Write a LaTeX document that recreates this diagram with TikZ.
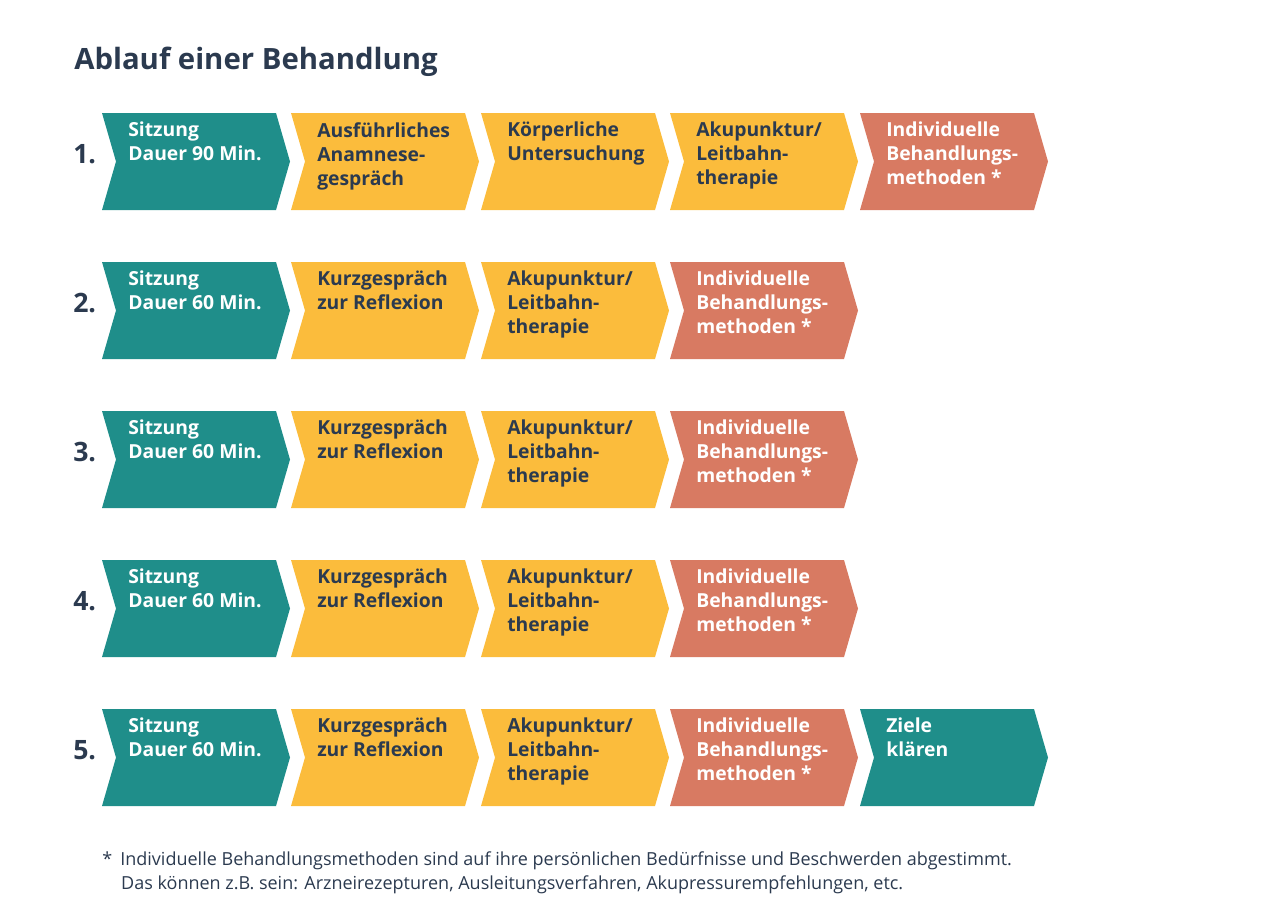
\documentclass[tikz,border=0pt]{standalone}
\usepackage{fontspec}
\setmainfont{Open Sans}
\definecolor{teal1}{HTML}{1F8E8A}
\definecolor{gelb}{HTML}{FBBC3C}
\definecolor{lachs}{HTML}{D87A62}
\definecolor{dunkel}{HTML}{2B3A4F}
\tikzset{
  pfeil/.style={inner sep=0pt},
  txt/.style={anchor=north west,align=left,inner sep=0pt,font=\bfseries\fontsize{14.5}{18}\selectfont},
  nr/.style={anchor=west,inner sep=0pt,text=dunkel,font=\bfseries\fontsize{20}{24}\selectfont}
}
% chevron: #1 = x, #2 = y (top), #3 = colour, #4 = name
\newcommand{\chev}[4]{%
  \fill[#3] (#1,#2) -- ++(174,0) -- ++(14,48.5) -- ++(-14,48.5) -- ++(-174,0) -- ++(14,-48.5) -- cycle;
  \coordinate (#4) at (#1+26,#2+9);}
\begin{document}
\begin{tikzpicture}[x=0.75pt,y=-0.75pt]
  \useasboundingbox (0,0) rectangle (1283,921);
  \node[anchor=west,inner sep=0pt,text=dunkel,font=\bfseries\fontsize{22}{26}\selectfont] (titel) at (74,62) {Ablauf einer Behandlung};
  % erste Sitzung
  \chev{102}{113}{teal1}{a1}
  \chev{291}{113}{gelb}{a2}
  \chev{481}{113}{gelb}{a3}
  \chev{670}{113}{gelb}{a4}
  \chev{860}{113}{lachs}{a5}
  \node[nr] (n1) at (73,154) {1.};
  \node[txt,text=white] (t11) at (a1) {Sitzung\\Dauer 90 Min.};
  \node[txt,text=dunkel] (t12) at (a2) {Ausführliches\\Anamnese-\\gespräch};
  \node[txt,text=dunkel] (t13) at (a3) {Körperliche\\Untersuchung};
  \node[txt,text=dunkel] (t14) at (a4) {Akupunktur/\\Leitbahn-\\therapie};
  \node[txt,text=white] (t15) at (a5) {Individuelle\\Behandlungs-\\methoden *};
  % Folgesitzungen
  \foreach \i/\y in {2/262,3/411,4/560,5/709}{
    \chev{102}{\y}{teal1}{b1}
    \chev{291}{\y}{gelb}{b2}
    \chev{481}{\y}{gelb}{b3}
    \chev{670}{\y}{lachs}{b4}
    \node[nr] (n\i) at (73,\y+41) {\i.};
    \node[txt,text=white] (s\i1) at (b1) {Sitzung\\Dauer 60 Min.};
    \node[txt,text=dunkel] (s\i2) at (b2) {Kurzgespräch\\zur Reflexion};
    \node[txt,text=dunkel] (s\i3) at (b3) {Akupunktur/\\Leitbahn-\\therapie};
    \node[txt,text=white] (s\i4) at (b4) {Individuelle\\Behandlungs-\\methoden *};
  }
  \chev{860}{709}{teal1}{c5}
  \node[txt,text=white] (t55) at (c5) {Ziele\\klären};
  % Fussnote
  \node[anchor=north west,inner sep=0pt,text=dunkel,align=left,font=\fontsize{13.5}{18}\selectfont] (fuss) at (102,851)
    {*\hspace{0.45em}Individuelle Behandlungsmethoden sind auf ihre persönlichen Bedürfnisse und Beschwerden abgestimmt.\\
     \hspace{1.05em}Das können z.B. sein: Arzneirezepturen, Ausleitungsverfahren, Akupressurempfehlungen, etc.};
\end{tikzpicture}
\end{document}
